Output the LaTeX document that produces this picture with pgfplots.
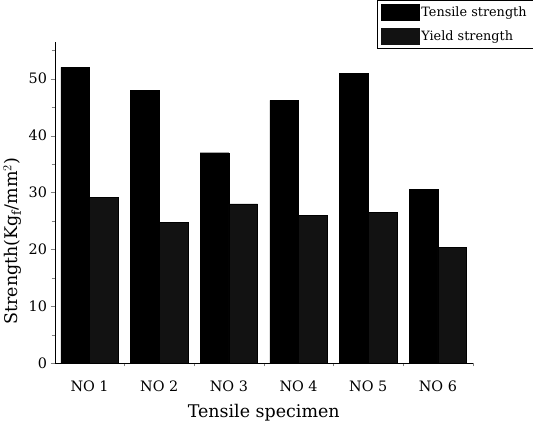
\documentclass[border=0pt]{standalone}
\usepackage{fontspec}
\setmainfont{DejaVu Serif}
\usepackage{pgfplots}
\pgfplotsset{compat=1.18}
\begin{document}
\begin{tikzpicture}
\begin{axis}[
  scale only axis,
  width=407pt, height=313pt,
  ybar=0pt, bar width=28pt,
  xmin=-0.5, xmax=5.5,
  ymin=0, ymax=56.5,
  axis lines*=left,
  tick align=outside,
  xtick={0,1,2,3,4,5},
  xticklabels={NO 1,NO 2,NO 3,NO 4,NO 5,NO 6},
  major x tick style={draw=none},
  minor xtick={0.5,1.5,2.5,3.5,4.5,5.5},
  ytick={0,10,20,30,40,50},
  minor ytick={5,15,25,35,45,55},
  major tick length=4pt, minor tick length=3pt,
  /pgf/number format/assume math mode=true,
  ticklabel style={font=\fontsize{14}{16}\selectfont},
  xticklabel style={yshift=-10pt},
  xlabel={Tensile specimen},
  ylabel={Strength(Kg$_{\mathrm{f}}$/mm$^{2}$)},
  label style={font=\fontsize{17}{19}\selectfont},
  xlabel style={yshift=-5pt},
  ylabel style={at={(ticklabel cs:0.38)}},
  legend style={at={(axis description cs:0.77,1.13)}, anchor=north west,
    draw=black, font=\fontsize{12.5}{14}\selectfont, row sep=8pt,
    inner xsep=4pt, inner ysep=4pt, cells={anchor=west}},
]
\addplot[fill=black, draw=black,
  legend image code/.code={\fill[black] (0pt,-7.5pt) rectangle (37pt,7.5pt);}]
  coordinates {(0,52.0) (1,48.0) (2,37.0) (3,46.2) (4,51.0) (5,30.6)};
\addplot[fill=black!93, draw=black,
  legend image code/.code={\fill[black!93] (0pt,-7.5pt) rectangle (37pt,7.5pt);}]
  coordinates {(0,29.2) (1,24.8) (2,28.0) (3,26.0) (4,26.5) (5,20.4)};
\legend{Tensile strength, Yield strength}
\end{axis}
\end{tikzpicture}
\end{document}
